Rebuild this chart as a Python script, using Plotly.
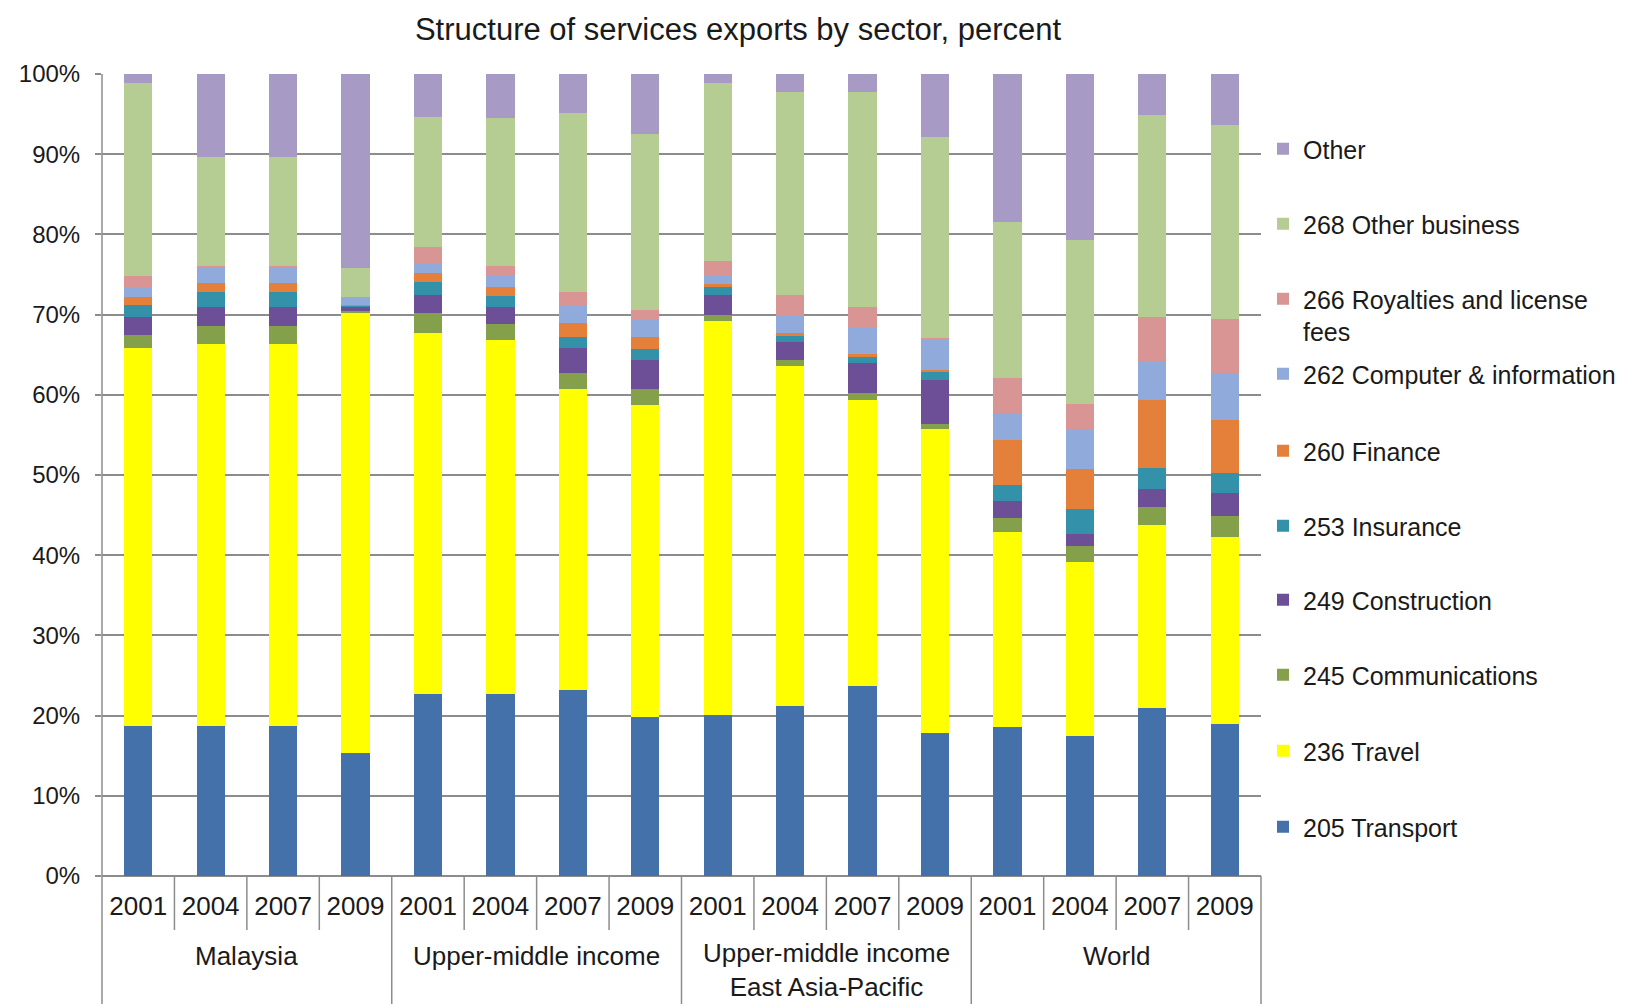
import plotly.graph_objects as go

# Categories: region groups and years
groups = ["Malaysia", "Upper-middle income", "Upper-middle income<br>East Asia-Pacific", "World"]
years = ["2001", "2004", "2007", "2009"]

# Share of services exports by sector, percent (one value per group-year, in order)
transport = [18.7, 18.7, 18.7, 15.3, 22.7, 22.7, 23.2, 19.8, 20.1, 21.2, 23.7, 17.8, 18.6, 17.5, 20.9, 18.9]
travel = [47.1, 47.6, 47.6, 55.0, 45.0, 44.1, 37.5, 38.9, 49.1, 42.4, 35.7, 37.9, 24.3, 21.7, 22.9, 23.4]
communications = [1.6, 2.3, 2.3, 0.2, 2.5, 2.0, 2.0, 2.0, 0.8, 0.7, 0.8, 0.7, 1.7, 2.0, 2.2, 2.6]
construction = [2.3, 2.4, 2.4, 0.5, 2.2, 2.2, 3.1, 3.6, 2.4, 2.3, 3.8, 5.4, 2.1, 1.5, 2.2, 2.8]
insurance = [1.5, 1.8, 1.8, 0.1, 1.7, 1.3, 1.4, 1.4, 1.1, 0.7, 0.7, 1.0, 2.1, 3.1, 2.7, 2.6]
finance = [1.0, 1.2, 1.2, 0.1, 1.1, 1.1, 1.7, 1.5, 0.3, 0.4, 0.4, 0.3, 5.6, 5.0, 8.4, 6.6]
computer = [1.3, 1.8, 1.8, 0.9, 1.1, 1.5, 2.3, 2.3, 1.1, 2.1, 3.2, 3.7, 3.3, 4.8, 4.8, 5.8]
royalties = [1.3, 0.3, 0.3, 0.1, 2.1, 1.2, 1.6, 1.1, 1.8, 2.6, 2.7, 0.3, 4.4, 3.3, 5.6, 6.7]
other_business = [24.1, 13.6, 13.6, 3.6, 16.3, 18.4, 22.3, 21.9, 22.2, 25.4, 26.8, 25.0, 19.4, 20.4, 25.2, 24.2]
other = [1.1, 10.3, 10.3, 24.2, 5.3, 5.5, 4.9, 7.5, 1.1, 2.2, 2.2, 7.9, 18.5, 20.7, 5.1, 6.4]

# y-axis ticks
y_ticks = list(range(0, 101, 10))
y_tick_labels = [f"{v}%" for v in y_ticks]

series = [
    ("205 Transport", transport, "#4471A9"),
    ("236 Travel", travel, "#FFFF00"),
    ("245 Communications", communications, "#84A04B"),
    ("249 Construction", construction, "#6C4F96"),
    ("253 Insurance", insurance, "#3392A9"),
    ("260 Finance", finance, "#E5803B"),
    ("262 Computer & information", computer, "#8FAADB"),
    ("266 Royalties and license<br>fees", royalties, "#D99594"),
    ("268 Other business", other_business, "#B5CC93"),
    ("Other", other, "#A79BC6"),
]

FONT = "Liberation Sans, Arial, sans-serif"
TEXT = "#1a1a1a"
GRID = "#8c8c8c"

year_labels = [y for _ in groups for y in years]
xpos = list(range(len(year_labels)))
n = len(xpos)

fig = go.Figure()

# legend rows, top to bottom: pixel centre of each entry in the 1004px-tall page
legend_rows = [150, 225, 300, 375, 452, 527, 601, 676, 752, 828]
W, H = 1630, 1004

for k, (name, vals, color) in enumerate(series):
    row = len(series) - 1 - k
    lid = "legend" if row == 0 else f"legend{row + 1}"
    fig.add_trace(go.Bar(
        x=xpos, y=vals, name=name, marker_color=color,
        marker_line_width=0, width=0.39, legend=lid,
    ))
    fig.update_layout({lid: dict(
        x=1263 / W, xref="container", xanchor="left",
        y=1 - (legend_rows[row] - 24) / H, yref="container", yanchor="top",
        font=dict(family=FONT, size=25, color=TEXT),
        bgcolor="rgba(0,0,0,0)", valign="top", itemwidth=30,
    )})

# group labels under the year labels
shapes = []
annotations = []
plot_h = 876 - 74
for g, name in enumerate(groups):
    centre = 970 if "<br>" in name else 956
    annotations.append(dict(
        x=g * 4 + 1.5, xref="x", y=-(centre - 876) / plot_h, yref="paper",
        text=name, showarrow=False, yanchor="middle",
        font=dict(family=FONT, size=26, color=TEXT),
    ))

# separators of the category table below the axis
for k in range(n + 1):
    xp = k / n
    is_group = k % 4 == 0
    y1 = -(1004 - 876) / plot_h if is_group else -(930 - 876) / plot_h
    shapes.append(dict(
        type="line", xref="paper", yref="paper", x0=xp, x1=xp, y0=0, y1=y1,
        line=dict(color=GRID, width=1.5),
    ))
# left axis line
shapes.append(dict(type="line", xref="paper", yref="paper", x0=0, x1=0, y0=0, y1=1,
                   line=dict(color=GRID, width=1.5)))

fig.update_layout(
    width=W, height=H,
    margin=dict(l=102, r=W - 1261, t=74, b=H - 876, autoexpand=False),
    barmode="stack",
    showlegend=True,
    paper_bgcolor="white", plot_bgcolor="white",
    title=dict(text="Structure of services exports by sector, percent",
               x=738 / W, xanchor="center", y=1 - 29 / H, yanchor="middle",
               font=dict(family=FONT, size=31, color=TEXT)),
    xaxis=dict(
        range=[-0.5, n - 0.5], tickvals=xpos, ticktext=year_labels,
        showgrid=False, zeroline=False, showline=False, ticks="",
        ticklabelstandoff=12,
        tickfont=dict(family=FONT, size=26, color=TEXT),
        fixedrange=True,
    ),
    yaxis=dict(
        range=[0, 100], tickvals=y_ticks, ticktext=y_tick_labels,
        showgrid=True, gridcolor=GRID, gridwidth=1.5,
        zeroline=True, zerolinecolor=GRID, zerolinewidth=1.5,
        ticks="outside", ticklen=6, tickcolor=GRID, tickwidth=1.5,
        ticklabelstandoff=10,
        tickfont=dict(family=FONT, size=24, color=TEXT),
        showline=False,
    ),
    shapes=shapes,
    annotations=annotations,
    bargap=0,
)

fig.write_html("out.html")
